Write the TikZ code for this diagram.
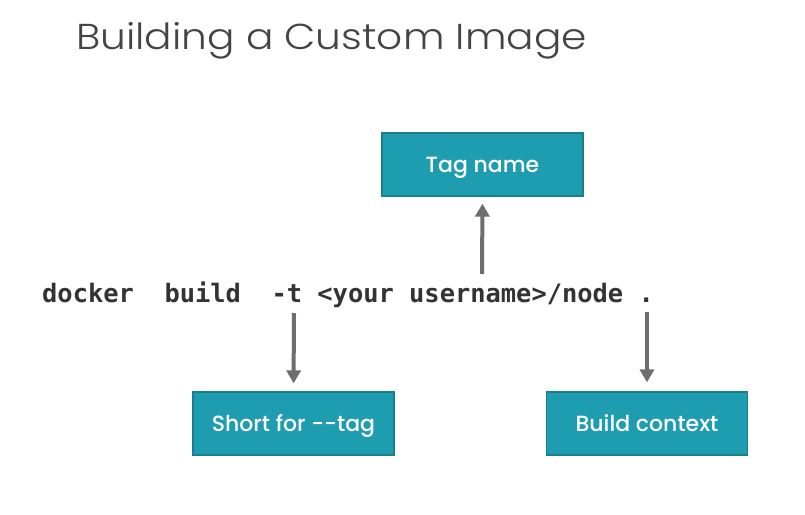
\documentclass[tikz,border=0pt]{standalone}
\usepackage{fontspec}
\usetikzlibrary{arrows.meta}
\newfontfamily\titlefont{Poppins Light}
\newfontfamily\boxfont{Poppins Medium}
\newfontfamily\codefont{DejaVu Sans Mono}
\definecolor{teal}{HTML}{1F9DB0}
\definecolor{tealedge}{HTML}{187F8E}
\definecolor{arrowgray}{HTML}{6E6E6E}
\definecolor{titlegray}{HTML}{444444}
\definecolor{codegray}{HTML}{333333}
\tikzset{
  labelbox/.style={draw=tealedge, line width=1.2pt, fill=teal, minimum width=201pt, minimum height=63pt, inner sep=0pt, text height=15.4pt, text depth=0pt, text=white, font=\boxfont\fontsize{22}{26}\selectfont},
  pointer/.style={draw=arrowgray, line width=4pt, -{Triangle[length=13pt,width=14pt]}}
}
\begin{document}
\begin{tikzpicture}[x=1pt,y=-1pt]
\useasboundingbox (0,0) rectangle (805,514);
\fill[white] (0,0) rectangle (805,514);
\node[anchor=base west, inner sep=0pt, text=titlegray, font=\titlefont\fontsize{36}{40}\selectfont, xscale=1.13, transform shape] (title) at (76,49) {Building a Custom Image};
\node[anchor=base west, inner sep=0pt, text=codegray, font=\codefont\bfseries\fontsize{25.4}{30}\selectfont] (cmd) at (42,302) {docker\ \ build\ \ -t <your username>/node .};
\node[labelbox] (tag) at (482.5,164.5) {Tag name};
\node[labelbox] (short) at (293.5,423.5) {Short for -{}-tag};
\node[labelbox] (ctx) at (647,423.5) {Build context};
\coordinate (tfrom) at (482,274);
\coordinate (sfrom) at (294,313);
\coordinate (cfrom) at (647,312);
\draw[pointer, shorten >=7pt] (tfrom) -- (tag.south);
\draw[pointer, shorten >=8pt] (sfrom) -- (short.north);
\draw[pointer, shorten >=9pt] (cfrom) -- (ctx.north);
\end{tikzpicture}
\end{document}
